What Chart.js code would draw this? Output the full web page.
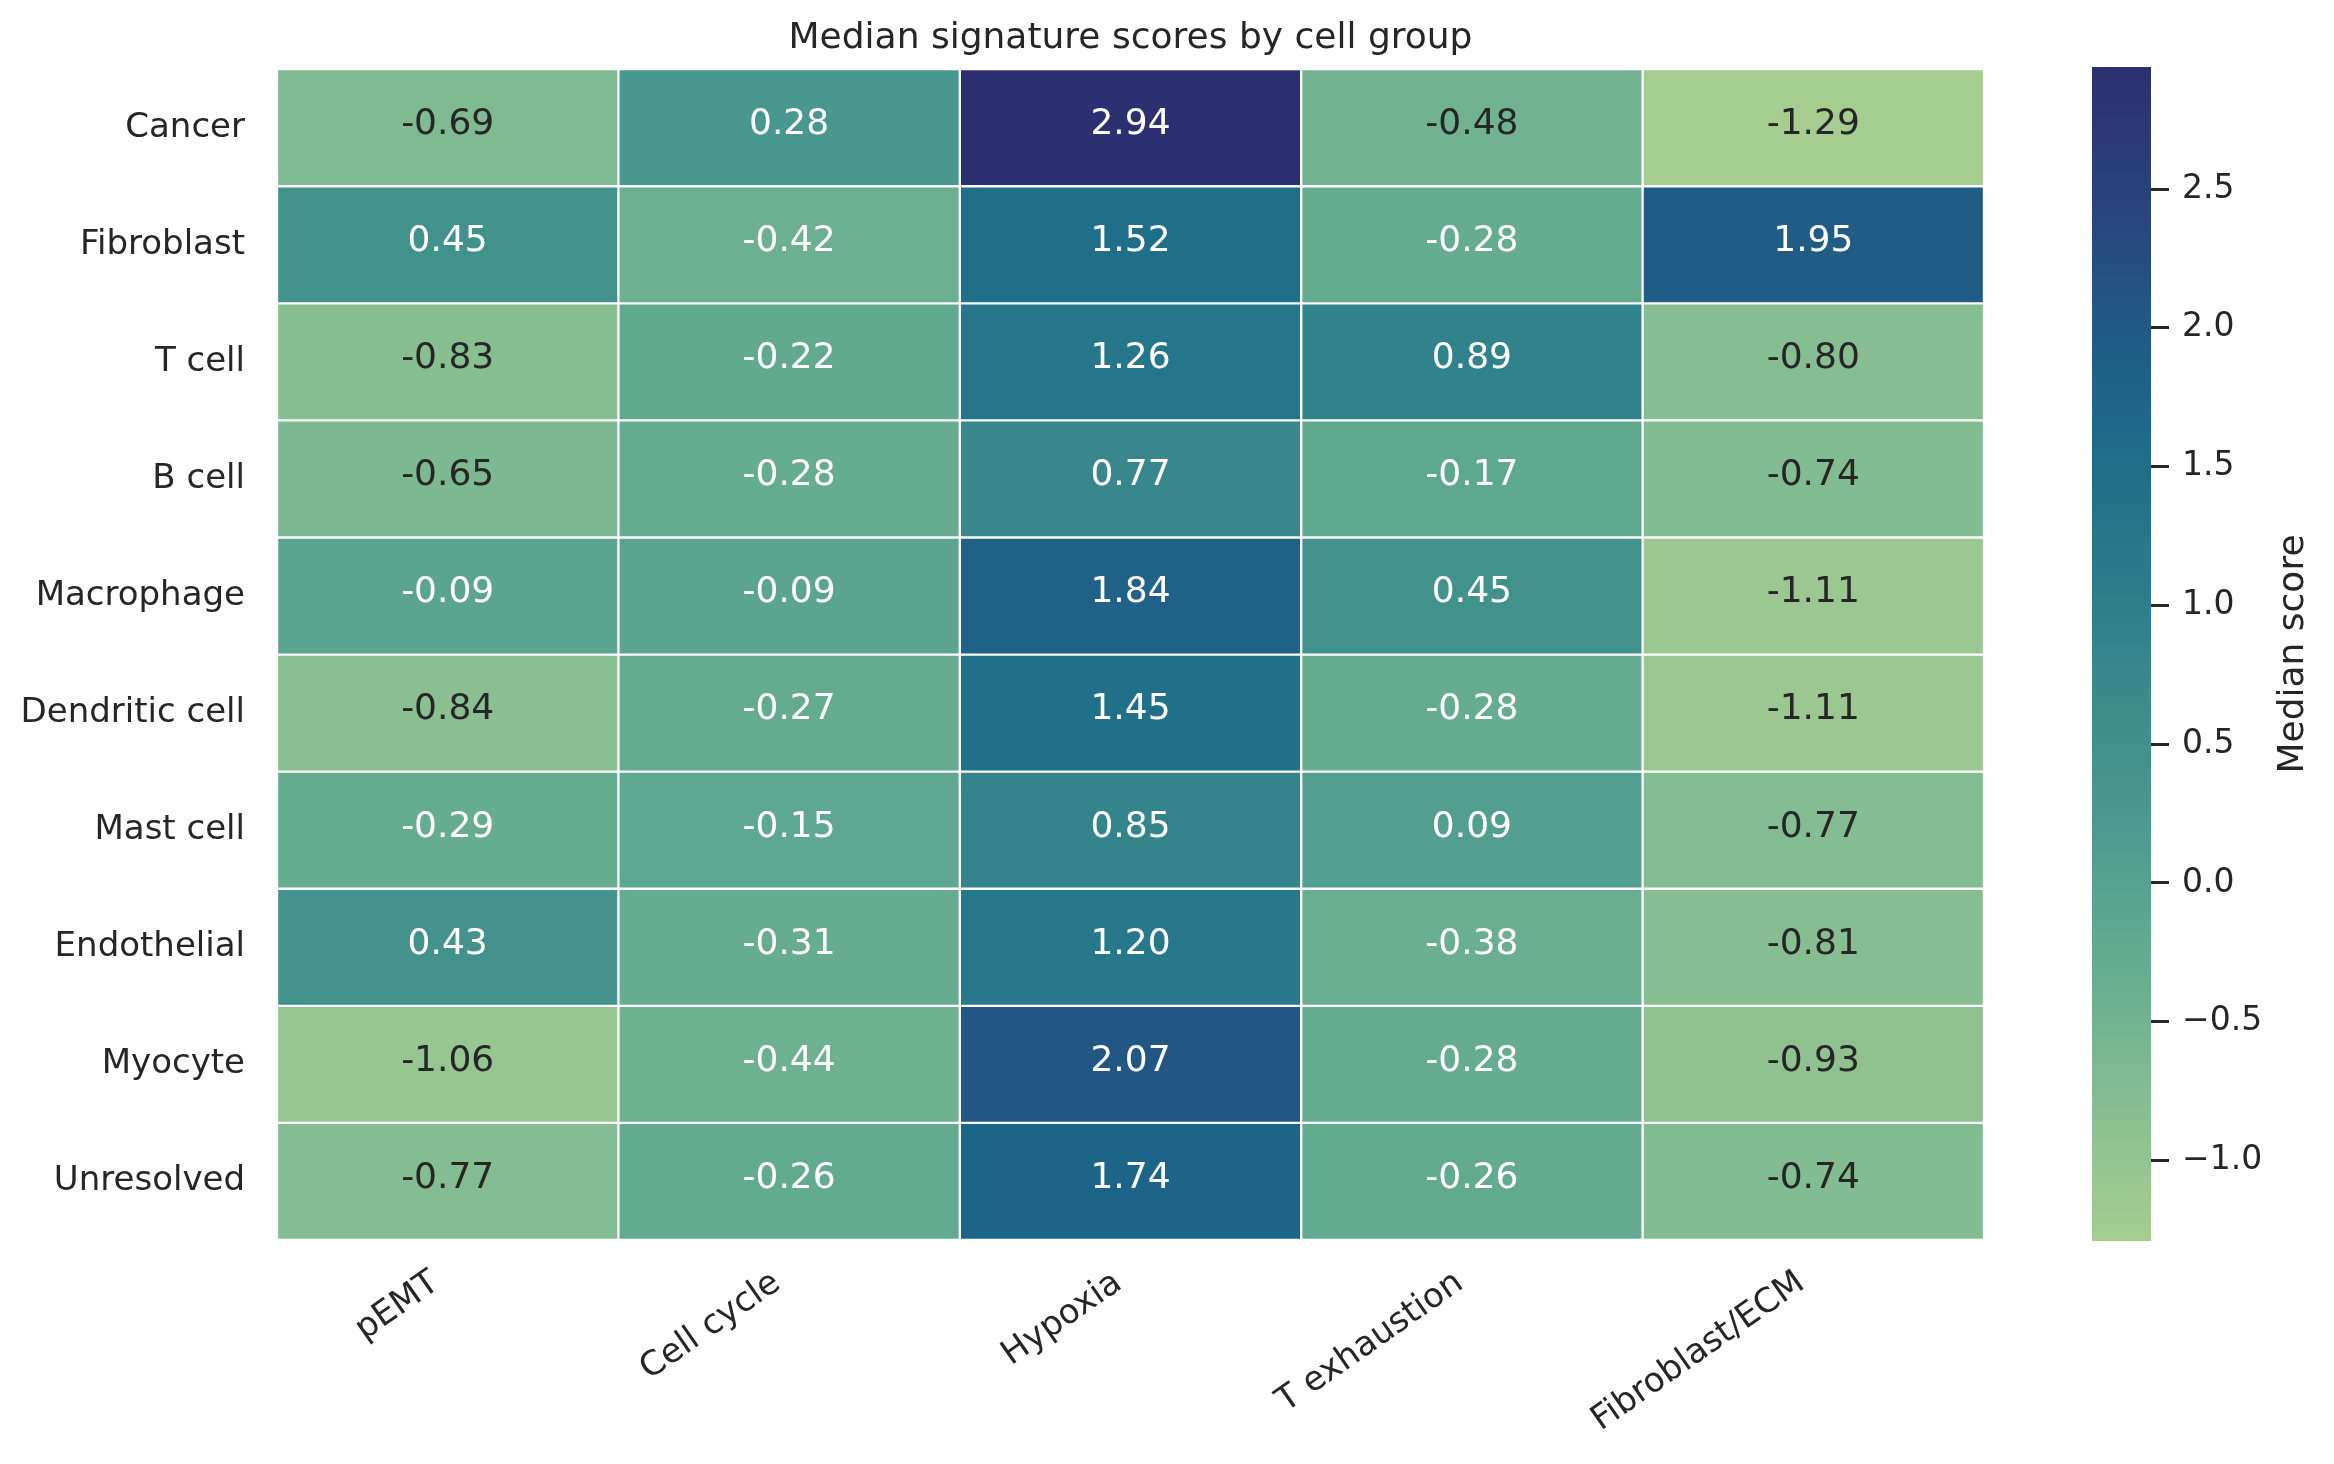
<!DOCTYPE html>
<html>
<head>
<meta charset="utf-8">
<script src="https://cdn.jsdelivr.net/npm/chart.js@4.4.1/dist/chart.umd.min.js"></script>
<style>
  html, body { margin: 0; padding: 0; background: #fff; }
  #page { position: relative; width: 2334px; height: 1464px; }
  #heatWrap { position: absolute; left: 0; top: 0; width: 2261px; height: 1464px; }
  #cbarWrap { position: absolute; left: 2040px; top: 0; width: 294px; height: 1464px; }
</style>
</head>
<body>
<div id="page">
  <div id="heatWrap"><canvas id="heat"></canvas></div>
  <div id="cbarWrap"><canvas id="cbar"></canvas></div>
</div>
<script>
// rows / columns of the heatmap
const cellGroups = ['Cancer', 'Fibroblast', 'T cell', 'B cell', 'Macrophage',
  'Dendritic cell', 'Mast cell', 'Endothelial', 'Myocyte', 'Unresolved'];
const signatures = ['pEMT', 'Cell cycle', 'Hypoxia', 'T exhaustion', 'Fibroblast/ECM'];

// median score per cell group, one array per signature
const pEMT          = [-0.69, 0.45, -0.83, -0.65, -0.09, -0.84, -0.29, 0.43, -1.06, -0.77];
const cellCycle     = [0.28, -0.42, -0.22, -0.28, -0.09, -0.27, -0.15, -0.31, -0.44, -0.26];
const hypoxia       = [2.94, 1.52, 1.26, 0.77, 1.84, 1.45, 0.85, 1.20, 2.07, 1.74];
const tExhaustion   = [-0.48, -0.28, 0.89, -0.17, 0.45, -0.28, 0.09, -0.38, -0.28, -0.26];
const fibroblastECM = [-1.29, 1.95, -0.80, -0.74, -1.11, -1.11, -0.77, -0.81, -0.93, -0.74];

const colorbarTicks = [-1.0, -0.5, 0.0, 0.5, 1.0, 1.5, 2.0, 2.5];

const scoreColumns = [pEMT, cellCycle, hypoxia, tExhaustion, fibroblastECM];
const allScores = scoreColumns.flat();
const vmin = Math.min(...allScores);
const vmax = Math.max(...allScores);

// "crest" colormap, sampled stops
const crestStops = [
  [0.000, [165, 205, 144]],
  [0.060, [150, 198, 144]],
  [0.142, [127, 186, 145]],
  [0.206, [108, 176, 145]],
  [0.250, [98, 170, 144]],
  [0.371, [72, 152, 143]],
  [0.411, [66, 146, 140]],
  [0.487, [56, 135, 140]],
  [0.515, [48, 131, 139]],
  [0.603, [37, 118, 138]],
  [0.664, [31, 110, 138]],
  [0.716, [29, 101, 136]],
  [0.794, [34, 87, 132]],
  [0.880, [40, 68, 124]],
  [1.000, [44, 48, 112]]
];

function crest(t) {
  t = Math.max(0, Math.min(1, t));
  for (let k = 1; k < crestStops.length; k++) {
    const [t1, c1] = crestStops[k];
    if (t <= t1) {
      const [t0, c0] = crestStops[k - 1];
      const f = (t - t0) / (t1 - t0);
      const c = c0.map((v, i) => Math.round(v + (c1[i] - v) * f));
      return `rgb(${c[0]}, ${c[1]}, ${c[2]})`;
    }
  }
  return `rgb(${crestStops[crestStops.length - 1][1].join(',')})`;
}

const norm = v => (v - vmin) / (vmax - vmin);
const FONT = "'DejaVu Sans', sans-serif";
const textDark = '#262626';

// value labels inside the cells
const annotate = {
  id: 'annotate',
  afterDatasetsDraw(chart) {
    const ctx = chart.ctx;
    ctx.save();
    ctx.font = `36px ${FONT}`;
    ctx.textAlign = 'center';
    ctx.textBaseline = 'middle';
    chart.data.datasets.forEach((ds, j) => {
      chart.getDatasetMeta(j).data.forEach((bar, i) => {
        const v = scoreColumns[j][i];
        ctx.fillStyle = norm(v) < 0.196 ? textDark : '#ffffff';
        const p = bar.getCenterPoint();
        ctx.fillText(v.toFixed(2), p.x, p.y - 3);
      });
    });
    ctx.restore();
  }
};

new Chart(document.getElementById('heat'), {
  type: 'bar',
  data: {
    labels: cellGroups,
    datasets: signatures.map((name, j) => ({
      label: name,
      data: cellGroups.map(() => [j, j + 1]),
      backgroundColor: scoreColumns[j].map(v => crest(norm(v))),
      borderColor: '#ffffff',
      borderWidth: 1.5,
      borderSkipped: false,
      barPercentage: 1,
      categoryPercentage: 1,
      grouped: false
    }))
  },
  options: {
    indexAxis: 'y',
    responsive: true,
    maintainAspectRatio: false,
    animation: false,
    devicePixelRatio: 1,
    layout: { padding: { left: 0, right: 277, top: 0, bottom: 0 } },
    plugins: {
      legend: { display: false },
      tooltip: { enabled: false },
      title: {
        display: true,
        fullSize: false,
        text: 'Median signature scores by cell group',
        color: textDark,
        font: { family: FONT, size: 36, weight: 'normal' },
        padding: { top: 17, bottom: 9 }
      }
    },
    scales: {
      x: {
        type: 'linear',
        min: 0,
        max: 5,
        grid: { display: false },
        border: { display: false },
        afterBuildTicks: s => { s.ticks = signatures.map((_, j) => ({ value: j + 0.5 })); },
        afterFit: s => { s.height = 224; },
        ticks: {
          autoSkip: false,
          minRotation: 35,
          maxRotation: 35,
          padding: 15,
          labelOffset: -12,
          color: textDark,
          font: { family: FONT, size: 34 },
          callback: (v, i) => signatures[i]
        }
      },
      y: {
        type: 'category',
        grid: { display: false },
        border: { display: false },
        afterFit: s => { s.width = 277; },
        ticks: { padding: 24, color: textDark, font: { family: FONT, size: 34 } }
      }
    }
  },
  plugins: [annotate]
});

// colorbar label, reading bottom to top
const cbarLabel = {
  id: 'cbarLabel',
  afterDraw(chart) {
    const sy = chart.scales.y;
    const area = chart.chartArea;
    const ctx = chart.ctx;
    ctx.save();
    ctx.translate(sy.left + 152, (area.top + area.bottom) / 2);
    ctx.rotate(-Math.PI / 2);
    ctx.font = `36px ${FONT}`;
    ctx.fillStyle = textDark;
    ctx.textAlign = 'center';
    ctx.textBaseline = 'alphabetic';
    ctx.fillText('Median score', 0, 0);
    ctx.restore();
  }
};

new Chart(document.getElementById('cbar'), {
  type: 'bar',
  data: {
    labels: ['Median score'],
    datasets: [{
      data: [[vmin, vmax]],
      backgroundColor: c => {
        const chart = c.chart;
        const sy = chart.scales.y;
        if (!sy || !chart.chartArea) return crest(0.5);
        const g = chart.ctx.createLinearGradient(0, sy.getPixelForValue(vmin), 0, sy.getPixelForValue(vmax));
        crestStops.forEach(([t, rgb]) => g.addColorStop(t, `rgb(${rgb.join(',')})`));
        return g;
      },
      borderWidth: 0,
      barPercentage: 1,
      categoryPercentage: 1
    }]
  },
  options: {
    responsive: true,
    maintainAspectRatio: false,
    animation: false,
    devicePixelRatio: 1,
    layout: { padding: { left: 52, top: 67, bottom: 223, right: 0 } },
    plugins: { legend: { display: false }, tooltip: { enabled: false } },
    scales: {
      x: { display: false },
      y: {
        position: 'right',
        min: vmin,
        max: vmax,
        afterBuildTicks: s => { s.ticks = colorbarTicks.map(v => ({ value: v })); },
        afterFit: s => { s.width = 183; },
        grid: { drawOnChartArea: false, drawTicks: true, tickLength: 18, tickWidth: 3, tickColor: textDark },
        border: { display: false },
        ticks: {
          padding: 13,
          color: textDark,
          font: { family: FONT, size: 33 },
          callback: v => (v < 0 ? '\u2212' : '') + Math.abs(v).toFixed(1)
        }
      }
    }
  },
  plugins: [cbarLabel]
});
</script>
</body>
</html>
